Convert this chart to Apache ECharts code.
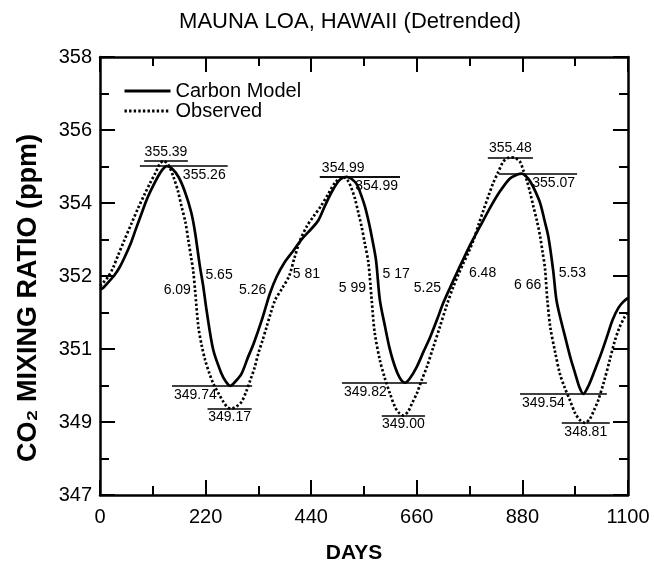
<!DOCTYPE html>
<html>
<head>
<meta charset="utf-8">
<script src="https://cdn.jsdelivr.net/npm/echarts@6/dist/echarts.min.js"></script>
<style>
  html, body { margin: 0; padding: 0; background: #fff; }
  #chart { width: 654px; height: 564px; }
</style>
</head>
<body>
<div id="chart"></div>
<script>
// Detrended CO2 seasonal cycle at Mauna Loa: model vs observations
const modelDays = [0, 8, 18, 30, 40, 52, 65, 75, 86, 96, 106, 120, 130, 139, 150, 164, 178, 190, 198, 208,
  215, 222, 236, 253, 262, 271, 282, 295, 308, 320, 337, 354, 368, 385, 402, 420, 440, 455, 470, 485,
  500, 514, 525, 535, 545, 552, 560, 566, 575, 583, 594, 603, 610, 620, 628, 635, 645, 660, 674, 688,
  702, 715, 729, 743, 756, 772, 792, 812, 833, 854, 868, 879, 888, 896, 906, 917, 926, 934, 944, 951,
  960, 969, 980, 990, 999, 1007, 1018, 1031, 1044, 1056, 1068, 1080, 1090, 1100];
const modelPpm = [352.15, 352.22, 352.35, 352.52, 352.7, 352.99, 353.35, 353.69, 354.05, 354.38, 354.65, 354.98, 355.17, 355.26, 355.2, 354.98, 354.58, 354.1, 353.6, 352.75,
  352.25, 351.64, 350.64, 350.05, 349.85, 349.74, 349.85, 350.05, 350.45, 350.8, 351.39, 352.06, 352.48, 352.85, 353.12, 353.42, 353.68, 353.9, 354.3, 354.66,
  354.92, 354.99, 354.93, 354.8, 354.5, 354.24, 353.85, 353.5, 352.9, 351.9, 351.22, 350.7, 350.39, 350.05, 349.88, 349.82, 349.92, 350.22, 350.6, 350.97,
  351.4, 351.82, 352.2, 352.57, 352.9, 353.3, 353.75, 354.2, 354.62, 354.95, 355.04, 355.07, 355.0, 354.88, 354.65, 354.33, 353.9, 353.49, 352.65, 351.89,
  351.4, 350.97, 350.45, 350.05, 349.7, 349.54, 349.75, 350.14, 350.55, 350.97, 351.4, 351.7, 351.85, 351.95];

const obsDays = [0, 8, 17, 27, 37, 50, 66, 80, 94, 105, 115, 124, 132, 142, 153, 162, 170, 178, 184, 190,
  194, 198, 205, 212, 219, 228, 236, 247, 257, 266, 274, 284, 295, 304, 313, 322, 330, 339, 347, 356,
  365, 380, 394, 405, 417, 431, 445, 460, 475, 490, 506, 516, 524, 531, 538, 545, 552, 559, 566, 572,
  583, 593, 604, 615, 624, 632, 642, 650, 660, 670, 681, 694, 708, 722, 736, 747, 757, 768, 778, 789,
  799, 809, 819, 830, 840, 849, 858, 867, 875, 882, 889, 896, 903, 910, 917, 922, 927, 932, 938, 948,
  958, 968, 979, 990, 1000, 1010, 1020, 1030, 1038, 1050, 1062, 1072, 1082, 1092, 1100];
const obsPpm = [352.25, 352.35, 352.48, 352.7, 353.0, 353.38, 353.83, 354.22, 354.58, 354.85, 355.08, 355.3, 355.39, 355.3, 354.99, 354.65, 354.24, 353.85, 353.4, 352.95,
  352.65, 352.15, 351.22, 350.75, 350.39, 350.05, 349.8, 349.55, 349.34, 349.2, 349.17, 349.22, 349.34, 349.58, 349.88, 350.2, 350.56, 350.9, 351.22, 351.58,
  351.9, 352.2, 352.5, 352.95, 353.4, 353.75, 354.0, 354.25, 354.55, 354.85, 354.99, 354.9, 354.7, 354.45, 354.1, 353.74, 353.3, 352.85, 351.9, 351.1,
  350.39, 349.95, 349.55, 349.2, 349.05, 349.0, 349.1, 349.3, 349.55, 349.88, 350.22, 350.7, 351.22, 351.75, 352.23, 352.55, 352.82, 353.1, 353.4, 353.8,
  354.16, 354.5, 354.83, 355.12, 355.37, 355.46, 355.48, 355.45, 355.37, 355.15, 354.91, 354.6, 354.24, 353.9, 353.49, 353.1, 352.7, 351.9, 351.22, 350.6,
  350.05, 349.7, 349.38, 349.05, 348.88, 348.81, 348.9, 349.15, 349.38, 349.85, 350.39, 350.85, 351.2, 351.45, 351.6];

// seasonal extremes (ppm)
const modelPeaks = [355.26, 354.99, 355.07];
const obsPeaks = [355.39, 354.99, 355.48];
const modelTroughs = [349.74, 349.82, 349.54];
const obsTroughs = [349.17, 349.00, 348.81];

// drawdown / recovery rates written along the slopes
const rateLabels = ['6.09', '5.65', '5.26', '5 81', '5 99', '5 17', '5.25', '6.48', '6 66', '5.53'];

const xTickLabels = ['0', '220', '440', '660', '880', '1100'];
const yTickLabels = ['347', '349', '351', '352', '354', '356', '358'];

// ---- layout ----
const Y_MIN = 347, Y_MAX = 358, Y_STEPS = 6;
const toAxis = v => (v - Y_MIN) / (Y_MAX - Y_MIN) * Y_STEPS;

// horizontal reference line extents (days) and label placement
const modelPeakSpan = [[83, 266], [458, 625], [831, 994]];
const obsPeakSpan = [[92, 183], [458, 625], [808, 902]];
const obsPeakLabelPos = ['insideMiddleTop', 'insideStartTop', 'insideMiddleTop'];
const modelTroughSpan = [[150, 317], [504, 681], [875, 1056]];
const obsTroughSpan = [[224, 316], [587, 677], [962, 1062]];
// anchor points (day, ppm) for the rate texts
const rateLabelPos = [[161, 352.15], [248, 352.52], [318, 352.15], [430, 352.55], [526, 352.2],
  [617, 352.55], [682, 352.2], [797, 352.57], [891, 352.27], [984, 352.57]];

const FONT = "'Liberation Sans', Arial, Helvetica, sans-serif";

function hline(v, span, pos) {
  return [
    { coord: [span[0], toAxis(v)], label: { position: pos, formatter: v.toFixed(2) } },
    { coord: [span[1], toAxis(v)] }
  ];
}

const markData = [];
for (let i = 0; i < 3; i++) {
  markData.push(hline(modelPeaks[i], modelPeakSpan[i], 'insideEndBottom'));
  markData.push(hline(obsPeaks[i], obsPeakSpan[i], obsPeakLabelPos[i]));
  markData.push(hline(modelTroughs[i], modelTroughSpan[i], 'insideStartBottom'));
  markData.push(hline(obsTroughs[i], obsTroughSpan[i], 'insideMiddleBottom'));
}

const modelData = modelDays.map((d, i) => [d, toAxis(modelPpm[i])]);
const obsData = obsDays.map((d, i) => [d, toAxis(obsPpm[i])]);
const rateData = rateLabels.map((t, i) => ({ name: t, value: [rateLabelPos[i][0], toAxis(rateLabelPos[i][1])] }));

const axisLine = { show: true, onZero: false, lineStyle: { color: '#000', width: 2.5 } };
const axisTick = { show: true, inside: true, length: 15, lineStyle: { color: '#000', width: 2 } };
const minorTick = { show: true, splitNumber: 2, length: 9, lineStyle: { color: '#000', width: 2 } };

const chart = echarts.init(document.getElementById('chart'), null, { renderer: 'canvas' });
chart.setOption({
  animation: false,
  backgroundColor: '#fff',
  textStyle: { fontFamily: FONT },
  graphic: [{
    type: 'text', x: 350, y: 22,
    style: { text: 'MAUNA LOA, HAWAII (Detrended)', font: '22px ' + FONT, fill: '#000',
             textAlign: 'center', textVerticalAlign: 'middle' }
  }],
  grid: { left: 100, right: 26, top: 57, bottom: 69, containLabel: false, outerBoundsMode: 'none' },
  legend: {
    data: ['Carbon Model', 'Observed'],
    orient: 'vertical', left: 118, top: 76, itemWidth: 46, itemHeight: 14, itemGap: 0,
    itemStyle: { opacity: 0 },
    lineStyle: { width: 3 },
    textStyle: { fontSize: 20, color: '#000', fontFamily: FONT }
  },
  xAxis: [{
    type: 'value', position: 'bottom', min: 0, max: 1100, interval: 220,
    axisLine, axisTick, minorTick, splitLine: { show: false }, minorSplitLine: { show: false },
    axisLabel: { fontSize: 20, color: '#000', margin: 12, fontFamily: FONT,
                 formatter: v => xTickLabels[Math.round(v / 220)] },
    name: 'DAYS', nameLocation: 'middle', nameGap: 48,
    nameTextStyle: { fontSize: 21, fontWeight: 'bold', color: '#000', fontFamily: FONT,
                     padding: [0, 20, 0, 0] }
  }, {
    type: 'value', position: 'top', min: 0, max: 1100, interval: 220,
    axisLine, axisTick, minorTick, splitLine: { show: false }, axisLabel: { show: false }
  }],
  yAxis: [{
    type: 'value', position: 'left', min: 0, max: Y_STEPS, interval: 1,
    axisLine, axisTick, minorTick, splitLine: { show: false }, minorSplitLine: { show: false },
    axisLabel: { fontSize: 20, color: '#000', margin: 8, fontFamily: FONT,
                 formatter: v => yTickLabels[Math.round(v)] },
    name: 'CO\u2082 MIXING RATIO (ppm)', nameLocation: 'middle', nameGap: 58, nameRotate: 90,
    nameTextStyle: { fontSize: 27, fontWeight: 'bold', color: '#000', fontFamily: FONT,
                     padding: [0, 44, 0, 0] }
  }, {
    type: 'value', position: 'right', min: 0, max: Y_STEPS, interval: 1,
    axisLine, axisTick, minorTick, splitLine: { show: false }, axisLabel: { show: false }
  }],
  series: [{
    name: 'Carbon Model', type: 'line', data: modelData, symbol: 'none', showSymbol: false,
    smooth: 0.3, z: 3,
    lineStyle: { color: '#000', width: 2.7 }, itemStyle: { color: '#000' },
    markLine: {
      silent: true, symbol: ['none', 'none'], animation: false,
      lineStyle: { color: '#000', width: 1.6, type: 'solid' },
      label: { color: '#000', fontSize: 14, fontFamily: FONT, distance: 2 },
      emphasis: { disabled: true },
      data: markData
    }
  }, {
    name: 'Observed', type: 'line', data: obsData, symbol: 'none', showSymbol: false,
    smooth: 0.3, z: 2,
    lineStyle: { color: '#000', width: 2.7, type: [2.4, 2.2] }, itemStyle: { color: '#000' }
  }, {
    name: 'rates', type: 'scatter', data: rateData, symbolSize: 0, silent: true, z: 4,
    itemStyle: { color: '#000', opacity: 1 },
    label: { show: true, position: 'inside', color: '#000', fontSize: 14, fontFamily: FONT,
             opacity: 1, formatter: p => p.name }
  }]
});
</script>
</body>
</html>
